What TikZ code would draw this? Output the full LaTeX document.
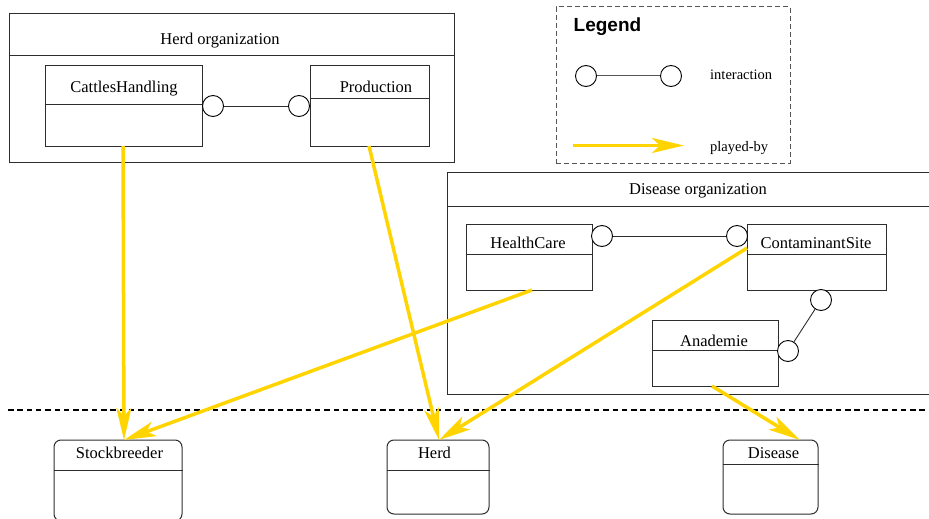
\documentclass[tikz,border=0pt]{standalone}
\usepackage{fontspec}
\setmainfont{Liberation Serif}
\newfontfamily\legendfont{Liberation Sans}
\usetikzlibrary{arrows.meta,calc}
\definecolor{playgold}{RGB}{255,212,0}
\definecolor{boxline}{RGB}{45,45,45}
\definecolor{legendline}{RGB}{85,85,85}

\begin{document}
\begin{tikzpicture}[x=1pt,y=-1pt,
  classbox/.style={draw=boxline, line width=1pt, rectangle, inner sep=0pt},
  rolebox/.style={classbox, rounded corners=7pt},
  sepline/.style={draw=boxline, line width=1pt},
  port/.style={circle, draw=black, line width=0.9pt, fill=white, minimum size=21pt, inner sep=0pt},
  interact/.style={draw=boxline, line width=0.9pt},
  playedby/.style={draw=playgold, line width=3.5pt,
    -{Stealth[length=32pt, width=15pt, inset=8pt]}},
  label/.style={font=\fontsize{16.5}{18}\selectfont, inner sep=0pt, anchor=base},
  legendtext/.style={font=\fontsize{14.5}{16}\selectfont, inner sep=0pt, anchor=base west},
  division/.style={draw=black, line width=2.2pt, dash pattern=on 5.5pt off 3.8pt},
]
\useasboundingbox (0,0) rectangle (929,519);
\clip (0,0) rectangle (929,519);

% ---------- Herd organization ----------
\node[classbox, minimum width=445, minimum height=148] (horg) at (231.5,88) {};
\draw[sepline] (horg.west |- 0,56) -- (horg.east |- 0,56);
\node[label] (horgt) at (220,44.5) {Herd organization};

\node[classbox, minimum width=157, minimum height=80] (ch) at (123.5,106) {};
\draw[sepline] (ch.west |- 0,104) -- (ch.east |- 0,104);
\node[label] (cht) at (124,92.5) {CattlesHandling};

\node[classbox, minimum width=119, minimum height=80] (pr) at (369.5,106) {};
\draw[sepline] (pr.west |- 0,98) -- (pr.east |- 0,98);
\node[label] (prt) at (376,92.5) {Production};

\node[port] (p1) at (213,106) {};
\node[port] (p2) at (299,106) {};
\draw[interact] (p1) -- (p2);

% ---------- Legend ----------
\node[draw=legendline, line width=1pt, dash pattern=on 5pt off 3pt,
      minimum width=234, minimum height=156, inner sep=0pt] (lg) at (673,85) {};
\node[font=\legendfont\bfseries\fontsize{19}{21}\selectfont, inner sep=0pt, anchor=base west]
  (lgt) at (573.5,31.7) {Legend};
\node[port] (l1) at (586,76) {};
\node[port] (l2) at (671,76) {};
\draw[draw=legendline, line width=1pt] (l1) -- (l2);
\node[legendtext] (lint) at (710,80) {interaction};
\coordinate (la) at (573,145.5);
\coordinate (lb) at (684,145.5);
\draw[playedby] (la) -- (lb);
\node[legendtext] (lplay) at (710,151.5) {played-by};

% ---------- Disease organization ----------
\node[classbox, minimum width=488, minimum height=222] (dorg) at (691,283) {};
\draw[sepline] (dorg.west |- 0,206) -- (dorg.east |- 0,206);
\node[label] (dorgt) at (698,194.5) {Disease organization};

\node[classbox, minimum width=126, minimum height=66] (hc) at (529,257) {};
\draw[sepline] (hc.west |- 0,254) -- (hc.east |- 0,254);
\node[label] (hct) at (528,248.5) {HealthCare};

\node[classbox, minimum width=139, minimum height=66] (cs) at (816.5,257) {};
\draw[sepline] (cs.west |- 0,254) -- (cs.east |- 0,254);
\node[label] (cst) at (816,248.5) {ContaminantSite};

\node[classbox, minimum width=126, minimum height=66] (an) at (715,353) {};
\draw[sepline] (an.west |- 0,350) -- (an.east |- 0,350);
\node[label] (ant) at (714,346.5) {Anademie};

\node[port] (p3) at (602,236) {};
\node[port] (p4) at (737,236) {};
\draw[interact] (p3) -- (p4);
\node[port] (p5) at (821,300) {};
\node[port] (p6) at (788,351) {};
\draw[interact] (p5) -- (p6);

% ---------- division between organizations and players ----------
\coordinate (dl) at (8,410);
\coordinate (dr) at (935,410);
\draw[division] (dl) -- (dr);

% ---------- players ----------
\node[rolebox, minimum width=128, minimum height=81] (sb) at (118,480.5) {};
\draw[sepline] (sb.west |- 0,470) -- (sb.east |- 0,470);
\node[label] (sbt) at (119.5,458.5) {Stockbreeder};

\node[rolebox, minimum width=102, minimum height=74] (hd) at (438,477) {};
\draw[sepline] (hd.west |- 0,470) -- (hd.east |- 0,470);
\node[label] (hdt) at (434.5,458.5) {Herd};

\node[rolebox, minimum width=95, minimum height=74] (ds) at (770.5,477) {};
\draw[sepline] (ds.west |- 0,464) -- (ds.east |- 0,464);
\node[label] (dst) at (773.5,458.5) {Disease};

% ---------- played-by links ----------
\coordinate (chout) at (123,146);
\coordinate (prout) at (369,146);
\coordinate (hcout) at (532,290);
\coordinate (csout) at (747,248);
\coordinate (anout) at (712,386);
\coordinate (sbin) at (124,440);
\coordinate (hdin) at (439,440);
\coordinate (dsin) at (800,440);

\draw[playedby] (chout) -- (sbin);
\draw[playedby] (hcout) -- (sbin);
\draw[playedby] (prout) -- (hdin);
\draw[playedby] (csout) -- (hdin);
\draw[playedby] (anout) -- (dsin);
\end{tikzpicture}
\end{document}
